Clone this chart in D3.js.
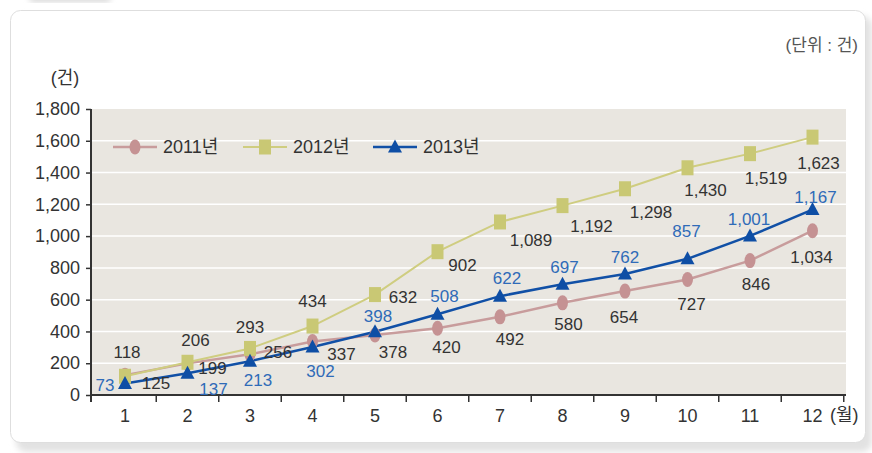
<!DOCTYPE html>
<html>
<head>
<meta charset="utf-8">
<script src="https://cdn.jsdelivr.net/npm/d3@7"></script>
<style>
  body { margin: 0; background: #fff; }
  svg { display: block; font-family: "Liberation Sans", "Noto Sans CJK KR", sans-serif; }
</style>
</head>
<body>
<svg id="chart" width="872" height="453"></svg>
<script>
// data
const months = ['1', '2', '3', '4', '5', '6', '7', '8', '9', '10', '11', '12']
const yTicks = [0, 200, 400, 600, 800, 1000, 1200, 1400, 1600, 1800]
const seriesNames = ['2011년', '2012년', '2013년']
const values2011 = [125, 199, 256, 337, 378, 420, 492, 580, 654, 727, 846, 1034]
const values2012 = [118, 206, 293, 434, 632, 902, 1089, 1192, 1298, 1430, 1519, 1623]
const values2013 = [73, 137, 213, 302, 398, 508, 622, 697, 762, 857, 1001, 1167]

// label placement (dx, dy from the marker), layout only
const labelPos2011 = [[31, 8], [25, 5], [28, -2], [29, 13], [18, 17], [9, 19], [10, 22], [6, 21], [-1, 26], [4, 25], [6, 23], [-1, 26]]
const labelPos2012 = [[2, -24], [8, -22], [0, -21], [0, -25], [28, 2], [25, 13], [31, 18], [29, 20], [26, 23], [18, 22], [16, 24], [6, 26]]
const labelPos2013 = [[-20, 2], [26, 16], [8, 19], [8, 24], [3, -16], [7, -18], [7, -18], [2, -17], [0, -17], [-1, -28], [-1, -17], [3, -13]]

const colors = ['#c59293', '#c9c874', '#0e4ea5']
const lineColors = ['#c89c9c', '#cfcd80', '#1150a6']
const labelColors = ['#333', '#333', '#2f6bb8']

const svg = d3.select('#chart')
const fmt = d3.format(',')

// card
const defs = svg.append('defs')
defs.append('filter').attr('id', 'blur')
  .append('feGaussianBlur').attr('stdDeviation', 3)
svg.append('rect')
  .attr('x', 30).attr('y', -8).attr('width', 80).attr('height', 10)
  .attr('fill', '#d8d8d8').attr('filter', 'url(#blur)')
svg.append('rect')
  .attr('x', 16).attr('y', 16).attr('width', 856).attr('height', 436)
  .attr('rx', 10).attr('fill', '#e2e2e2').attr('filter', 'url(#blur)')
svg.append('rect')
  .attr('x', 10.5).attr('y', 10.5).attr('width', 855).attr('height', 432)
  .attr('rx', 10).attr('fill', '#fff').attr('stroke', '#dedede')

const plot = { left: 91, right: 846, top: 109, bottom: 395 }

const y = d3.scaleLinear().domain([0, 1800]).range([plot.bottom, plot.top])
const x = d3.scaleBand().domain(months).range([93.75, 843.75])
const cx = m => x(m) + x.bandwidth() / 2

// background and grid
svg.append('rect')
  .attr('x', plot.left).attr('y', plot.top)
  .attr('width', plot.right - plot.left).attr('height', plot.bottom - plot.top)
  .attr('fill', '#e9e6e0')

svg.append('g')
  .selectAll('line')
  .data(yTicks.filter(d => d > 0 && d < 1800))
  .join('line')
  .attr('x1', plot.left).attr('x2', plot.right)
  .attr('y1', d => y(d)).attr('y2', d => y(d))
  .attr('stroke', '#fff').attr('stroke-width', 1.5)

// axes
const axisY = svg.append('g')
  .attr('transform', 'translate(' + plot.left + ',0)')
  .call(d3.axisLeft(y).tickValues(yTicks).tickFormat(fmt).tickSize(5).tickPadding(6))
axisY.select('.domain').remove()
axisY.selectAll('.tick line').attr('stroke', '#333').attr('stroke-width', 1.5)
axisY.selectAll('.tick text').attr('font-size', 18).attr('fill', '#333').attr('font-family', null)

const axisX = svg.append('g')
  .attr('transform', 'translate(0,' + plot.bottom + ')')
  .call(d3.axisBottom(x).tickSize(0).tickPadding(14))
axisX.select('.domain').remove()
axisX.selectAll('.tick text').attr('font-size', 18).attr('fill', '#333').attr('font-family', null)

svg.append('g')
  .selectAll('line')
  .data(months)
  .join('line')
  .attr('x1', d => x(d) + x.bandwidth()).attr('x2', d => x(d) + x.bandwidth())
  .attr('y1', plot.bottom).attr('y2', plot.bottom + 7)
  .attr('stroke', '#333').attr('stroke-width', 1.5)

svg.append('line')
  .attr('x1', plot.left).attr('x2', plot.left)
  .attr('y1', plot.top).attr('y2', plot.bottom + 7)
  .attr('stroke', '#333').attr('stroke-width', 2)
svg.append('line')
  .attr('x1', plot.left).attr('x2', plot.right)
  .attr('y1', plot.bottom).attr('y2', plot.bottom)
  .attr('stroke', '#333').attr('stroke-width', 2)

svg.append('text').attr('x', 830).attr('y', plot.bottom + 20)
  .attr('dy', '0.35em').attr('font-size', 18).attr('fill', '#333').text('(월)')
svg.append('text').attr('x', 65).attr('y', 78)
  .attr('dy', '0.35em').attr('text-anchor', 'middle')
  .attr('font-size', 18).attr('fill', '#333').text('(건)')
svg.append('text').attr('x', 858).attr('y', 45)
  .attr('dy', '0.35em').attr('text-anchor', 'end')
  .attr('font-size', 17).attr('fill', '#555').text('(단위 : 건)')

// markers
function marker(g, i) {
  if (i === 0) {
    g.append('ellipse').attr('rx', 5.5).attr('ry', 7.5).attr('fill', colors[0])
  } else if (i === 1) {
    g.append('rect').attr('x', -6).attr('y', -7.5).attr('width', 12).attr('height', 15).attr('fill', colors[1])
  } else {
    g.append('path').attr('d', 'M0,-7.5L7,5.5L-7,5.5Z').attr('fill', colors[2])
  }
}

const allValues = [values2011, values2012, values2013]
const allLabels = [labelPos2011, labelPos2012, labelPos2013]
const widths = [2.5, 2, 2.5]

const line = d3.line().x((d, i) => cx(months[i])).y(d => y(d))

allValues.forEach(function(vals, si) {
  svg.append('path')
    .attr('d', line(vals))
    .attr('fill', 'none')
    .attr('stroke', lineColors[si])
    .attr('stroke-width', widths[si])
})

allValues.forEach(function(vals, si) {
  svg.append('g')
    .selectAll('g')
    .data(vals)
    .join('g')
    .attr('transform', (d, i) => 'translate(' + cx(months[i]) + ',' + y(d) + ')')
    .each(function() { marker(d3.select(this), si) })
})

allValues.forEach(function(vals, si) {
  svg.append('g')
    .selectAll('text')
    .data(vals)
    .join('text')
    .attr('x', (d, i) => cx(months[i]) + allLabels[si][i][0])
    .attr('y', (d, i) => y(d) + allLabels[si][i][1])
    .attr('dy', '0.35em')
    .attr('text-anchor', 'middle')
    .attr('font-size', 17)
    .attr('fill', labelColors[si])
    .text(d => fmt(d))
})

// legend
const legendX = [135, 265, 395]
const legend = svg.append('g')
  .selectAll('g')
  .data(seriesNames)
  .join('g')
  .attr('transform', (d, i) => 'translate(' + legendX[i] + ',147)')
legend.append('line')
  .attr('x1', -22).attr('x2', 22)
  .attr('stroke', (d, i) => lineColors[i])
  .attr('stroke-width', (d, i) => widths[i])
legend.each(function(d, i) { marker(d3.select(this), i) })
legend.append('text')
  .attr('x', 28).attr('dy', '0.35em')
  .attr('font-size', 18).attr('fill', '#333')
  .text(d => d)
</script>
</body>
</html>
